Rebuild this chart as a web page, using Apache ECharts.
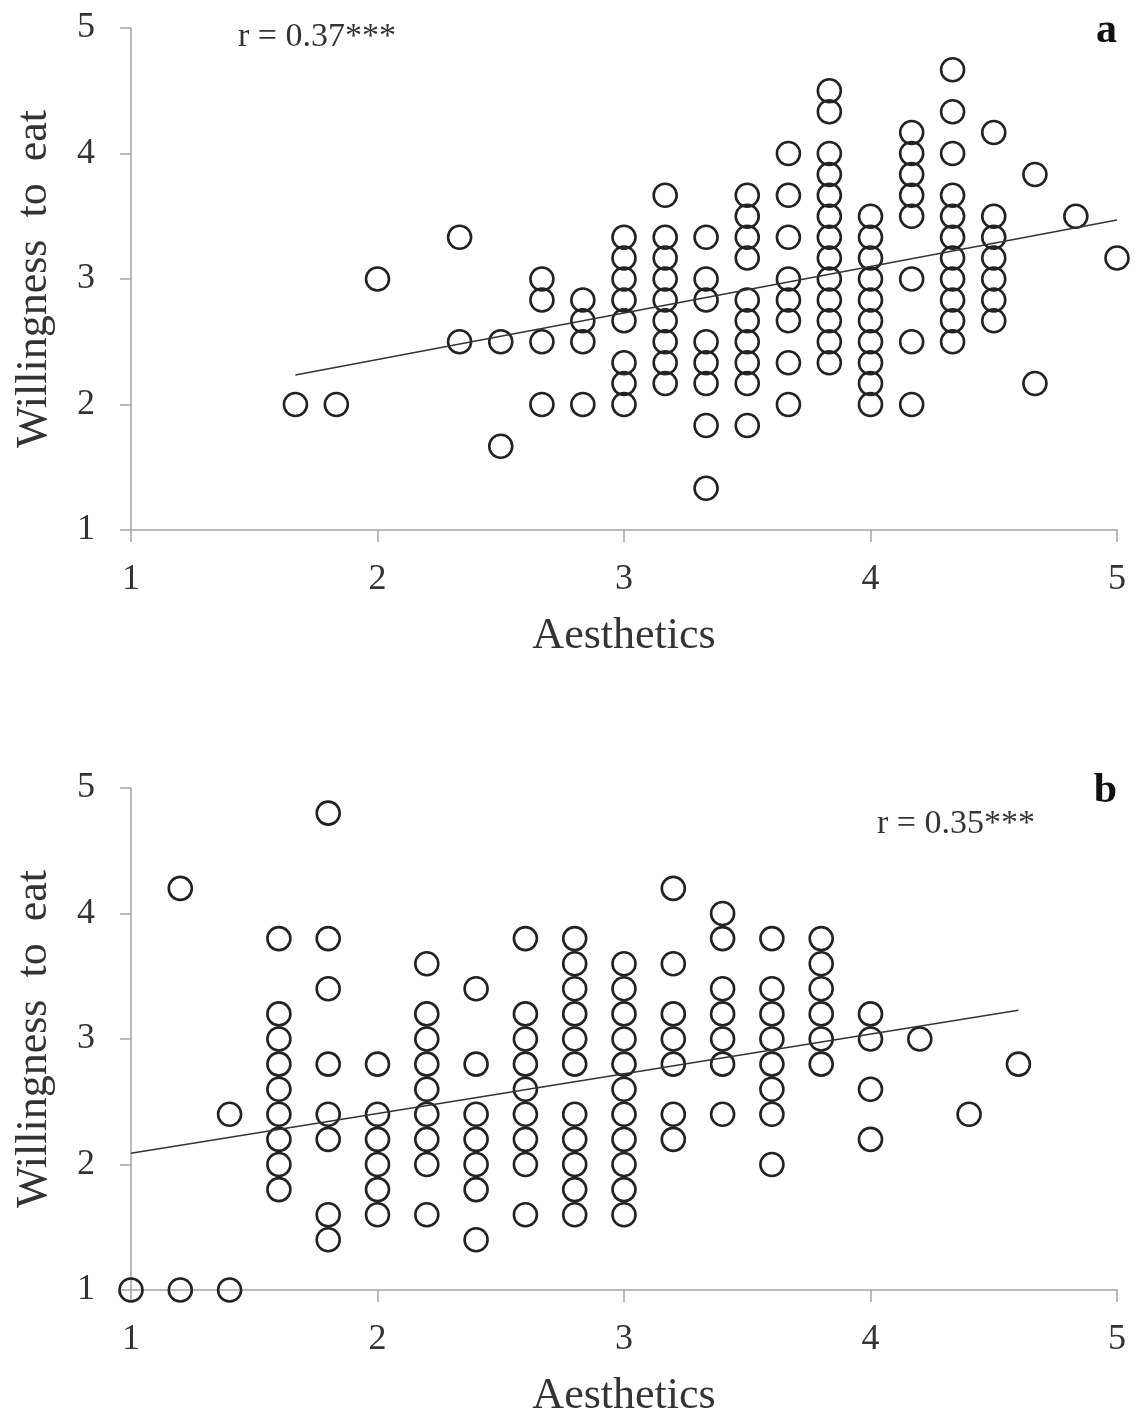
<!DOCTYPE html>
<html>
<head>
<meta charset="utf-8">
<script src="https://cdn.jsdelivr.net/npm/echarts@6/dist/echarts.min.js"></script>
<style>
html,body{margin:0;padding:0;background:#fff;}
#chart{width:1137px;height:1416px;}
</style>
</head>
<body>
<div id="chart"></div>
<script>
// Panel a: Aesthetics (x) vs Willingness to eat (y), grouped by x column
const aX = [1.667, 1.833, 2, 2.333, 2.5, 2.667, 2.833, 3, 3.167, 3.333, 3.5, 3.667, 3.833, 4, 4.167, 4.333, 4.5, 4.667, 4.833, 5];
const aY = [
  [2],
  [2],
  [3],
  [3.333, 2.5],
  [2.5, 1.667],
  [3, 2.833, 2.5, 2],
  [2.833, 2.667, 2.5, 2],
  [3.333, 3.167, 3, 2.833, 2.667, 2.333, 2.167, 2],
  [3.667, 3.333, 3.167, 3, 2.833, 2.667, 2.5, 2.333, 2.167],
  [3.333, 3, 2.833, 2.5, 2.333, 2.167, 1.833, 1.333],
  [3.667, 3.5, 3.333, 3.167, 2.833, 2.667, 2.5, 2.333, 2.167, 1.833],
  [4, 3.667, 3.333, 3, 2.833, 2.667, 2.333, 2],
  [4.5, 4.333, 4, 3.833, 3.667, 3.5, 3.333, 3.167, 3, 2.833, 2.667, 2.5, 2.333],
  [3.5, 3.333, 3.167, 3, 2.833, 2.667, 2.5, 2.333, 2.167, 2],
  [4.167, 4, 3.833, 3.667, 3.5, 3, 2.5, 2],
  [4.667, 4.333, 4, 3.667, 3.5, 3.333, 3.167, 3, 2.833, 2.667, 2.5],
  [4.167, 3.5, 3.333, 3.167, 3, 2.833, 2.667],
  [3.833, 2.167],
  [3.5],
  [3.167]
];
const aFitLine = [[1.667, 2.235], [5, 3.47]];
const aLabel = 'r = 0.37***';

// Panel b
const bX = [1, 1.2, 1.4, 1.6, 1.8, 2, 2.2, 2.4, 2.6, 2.8, 3, 3.2, 3.4, 3.6, 3.8, 4, 4.2, 4.4, 4.6];
const bY = [
  [1],
  [4.2, 1],
  [2.4, 1],
  [3.8, 3.2, 3.0, 2.8, 2.6, 2.4, 2.2, 2.0, 1.8],
  [4.8, 3.8, 3.4, 2.8, 2.4, 2.2, 1.6, 1.4],
  [2.8, 2.4, 2.2, 2.0, 1.8, 1.6],
  [3.6, 3.2, 3.0, 2.8, 2.6, 2.4, 2.2, 2.0, 1.6],
  [3.4, 2.8, 2.4, 2.2, 2.0, 1.8, 1.4],
  [3.8, 3.2, 3.0, 2.8, 2.6, 2.4, 2.2, 2.0, 1.6],
  [3.8, 3.6, 3.4, 3.2, 3.0, 2.8, 2.4, 2.2, 2.0, 1.8, 1.6],
  [3.6, 3.4, 3.2, 3.0, 2.8, 2.6, 2.4, 2.2, 2.0, 1.8, 1.6],
  [4.2, 3.6, 3.2, 3.0, 2.8, 2.4, 2.2],
  [4.0, 3.8, 3.4, 3.2, 3.0, 2.8, 2.4],
  [3.8, 3.4, 3.2, 3.0, 2.8, 2.6, 2.4, 2.0],
  [3.8, 3.6, 3.4, 3.2, 3.0, 2.8],
  [3.2, 3.0, 2.6, 2.2],
  [3.0],
  [2.4],
  [2.8]
];
const bFitLine = [[1, 2.09], [4.6, 3.23]];
const bLabel = 'r = 0.35***';

const axisTicks = [1, 2, 3, 4, 5];
const xTitle = 'Aesthetics';
const yTitle = 'Willingness  to  eat';

function toPairs(xs, ys) {
  const out = [];
  xs.forEach((x, i) => ys[i].forEach(y => out.push([x, y])));
  return out;
}

const SERIF = '"Liberation Serif", "Times New Roman", serif';
const textColor = '#333';
const axisColor = '#a3a3a3';

function makeX(gi) {
  return {
    gridIndex: gi, type: 'value', min: axisTicks[0], max: axisTicks[axisTicks.length - 1], interval: 1,
    name: xTitle, nameLocation: 'middle', nameGap: 84,
    nameTextStyle: { fontFamily: SERIF, fontSize: 44, color: textColor },
    axisLine: { lineStyle: { color: axisColor, width: 1.5 } },
    axisTick: { show: true, inside: false, length: 12, lineStyle: { color: axisColor, width: 1.5 } },
    axisLabel: { fontFamily: SERIF, fontSize: 36, color: textColor, margin: 32 },
    splitLine: { show: false }
  };
}
function makeY(gi) {
  return {
    gridIndex: gi, type: 'value', min: axisTicks[0], max: axisTicks[axisTicks.length - 1], interval: 1,
    name: yTitle, nameLocation: 'middle', nameGap: 75, nameRotate: 90,
    nameTextStyle: { fontFamily: SERIF, fontSize: 44, color: textColor },
    axisLine: { lineStyle: { color: axisColor, width: 1.5 } },
    axisTick: { show: true, inside: false, length: 11, lineStyle: { color: axisColor, width: 1.5 } },
    axisLabel: { fontFamily: SERIF, fontSize: 36, color: textColor, margin: 36 },
    splitLine: { show: false }
  };
}
const scatterStyle = {
  type: 'scatter', symbol: 'circle', symbolSize: 23,
  itemStyle: { color: 'rgba(255,255,255,0)', borderColor: '#222', borderWidth: 2.6, opacity: 1 },
  emphasis: { disabled: true }, z: 3
};
const lineStyleSeries = {
  type: 'line', showSymbol: false, symbol: 'none',
  lineStyle: { color: '#333', width: 1.5 }, z: 4, silent: true
};

const chart = echarts.init(document.getElementById('chart'), null, { renderer: 'canvas' });
chart.setOption({
  backgroundColor: '#fff',
  animation: false,
  grid: [
    { left: 131, right: 20, top: 28, height: 502, outerBoundsMode: 'none', containLabel: false },
    { left: 131, right: 20, top: 788, height: 502, outerBoundsMode: 'none', containLabel: false }
  ],
  xAxis: [makeX(0), makeX(1)],
  yAxis: [makeY(0), makeY(1)],
  series: [
    Object.assign({}, scatterStyle, { xAxisIndex: 0, yAxisIndex: 0, data: toPairs(aX, aY) }),
    Object.assign({}, lineStyleSeries, { xAxisIndex: 0, yAxisIndex: 0, data: aFitLine }),
    Object.assign({}, scatterStyle, { xAxisIndex: 1, yAxisIndex: 1, data: toPairs(bX, bY) }),
    Object.assign({}, lineStyleSeries, { xAxisIndex: 1, yAxisIndex: 1, data: bFitLine })
  ],
  graphic: [
    { type: 'text', left: 238, top: 20, style: { text: aLabel, font: '34px ' + SERIF, fill: textColor } },
    { type: 'text', right: 20, top: 10, style: { text: 'a', font: 'bold 42px ' + SERIF, fill: '#111' } },
    { type: 'text', left: 877, top: 807, style: { text: bLabel, font: '34px ' + SERIF, fill: textColor } },
    { type: 'text', right: 20, top: 770, style: { text: 'b', font: 'bold 42px ' + SERIF, fill: '#111' } }
  ]
});
</script>
</body>
</html>
